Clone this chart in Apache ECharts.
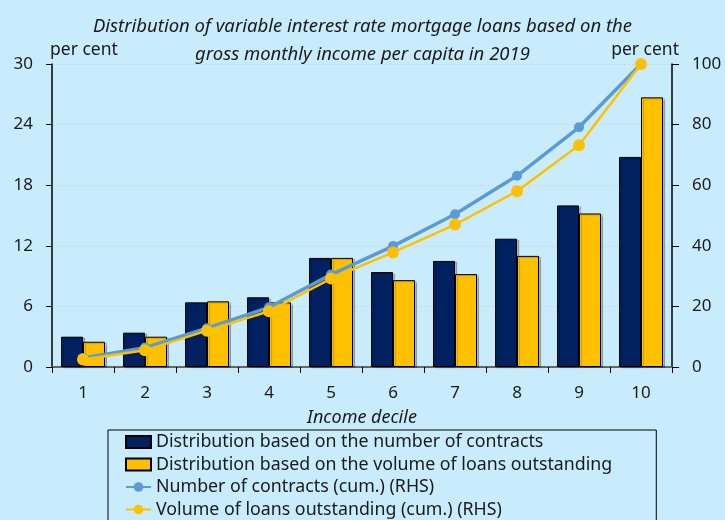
<!DOCTYPE html>
<html>
<head>
<meta charset="utf-8">
<script src="https://cdn.jsdelivr.net/npm/echarts@6/dist/echarts.min.js"></script>
<style>
  html, body { margin: 0; padding: 0; background: #C9ECFC; }
  #chart { width: 725px; height: 520px; }
</style>
</head>
<body>
<div id="chart"></div>
<script>
// Income deciles
const deciles = ['1', '2', '3', '4', '5', '6', '7', '8', '9', '10'];
// Share per decile, per cent (left axis)
const byContracts = [3.0, 3.4, 6.4, 6.9, 10.8, 9.4, 10.5, 12.7, 16.0, 20.8];
const byVolume = [2.5, 3.0, 6.5, 6.4, 10.8, 8.6, 9.2, 11.0, 15.2, 26.7];
// Cumulative shares, per cent (right axis)
const contractsCum = [3.0, 6.4, 12.8, 19.7, 30.5, 39.9, 50.4, 63.1, 79.1, 100];
const volumeCum = [2.5, 5.5, 12.0, 18.4, 29.2, 37.8, 47.0, 58.0, 73.2, 100];

const leftTicks = [0, 6, 12, 18, 24, 30];
const rightTicks = [0, 20, 40, 60, 80, 100];

const FONT = 'Noto Sans';
const TXT = '#1a1a1a';

const chart = echarts.init(document.getElementById('chart'), null, { renderer: 'canvas' });

chart.setOption({
  backgroundColor: '#C9ECFC',
  textStyle: { fontFamily: FONT, color: TXT },
  title: {
    text: 'Distribution of variable interest rate mortgage loans based on the\ngross monthly income per capita in 2019',
    left: 'center',
    top: 8,
    textStyle: { fontFamily: FONT, fontStyle: 'italic', fontWeight: 'normal', fontSize: 18.5, lineHeight: 28, color: TXT }
  },
  grid: { left: 52, right: 53, top: 64, bottom: 153, containLabel: false },
  legend: {
    orient: 'vertical',
    left: 108,
    top: 430,
    height: 200,
    padding: [3, 44, 30, 17],
    itemGap: 4.5,
    itemWidth: 25,
    itemHeight: 12,
    borderColor: '#000',
    borderWidth: 1,
    textStyle: { fontFamily: FONT, fontSize: 17.8, lineHeight: 18, color: TXT },
    data: [
      { name: 'Distribution based on the number of contracts', icon: 'rect' },
      { name: 'Distribution based on the volume of loans outstanding', icon: 'rect' },
      { name: 'Number of contracts (cum.) (RHS)' },
      { name: 'Volume of loans outstanding (cum.) (RHS)' }
    ]
  },
  xAxis: [{
    type: 'category',
    data: deciles,
    name: 'Income decile',
    nameLocation: 'middle',
    nameGap: 42,
    nameTextStyle: { fontFamily: FONT, fontStyle: 'italic', fontSize: 18, color: TXT },
    axisLine: { lineStyle: { color: '#000', width: 1.5 } },
    axisTick: { show: true, length: 6, lineStyle: { color: '#000' } },
    axisLabel: { fontFamily: FONT, fontSize: 17, color: TXT, margin: 18 }
  }, {
    type: 'category',
    data: deciles,
    position: 'top',
    axisLine: { show: true, lineStyle: { color: '#666', width: 2 } },
    axisTick: { show: false },
    axisLabel: { show: false }
  }],
  yAxis: [{
    type: 'value',
    min: 0, max: 30, interval: 6,
    name: 'per cent',
    nameLocation: 'end',
    nameGap: 5,
    nameTextStyle: { fontFamily: FONT, fontSize: 17.5, color: TXT, align: 'left', padding: [0, 0, 0, -2] },
    axisLine: { show: true, lineStyle: { color: '#000', width: 1.5 } },
    axisTick: { show: true, length: 6, lineStyle: { color: '#000' } },
    axisLabel: { fontFamily: FONT, fontSize: 17, color: TXT, margin: 19,
      formatter: v => leftTicks.includes(v) ? String(v) : '' },
    splitLine: { show: true, lineStyle: { color: '#d4d4d4', type: [2, 2], width: 1 } }
  }, {
    type: 'value',
    min: 0, max: 100, interval: 20,
    position: 'right',
    name: 'per cent',
    nameLocation: 'end',
    nameGap: 5,
    nameTextStyle: { fontFamily: FONT, fontSize: 17.5, color: TXT, align: 'right', padding: [0, -7, 0, 0] },
    axisLine: { show: true, lineStyle: { color: '#000', width: 1.5 } },
    axisTick: { show: true, length: 7, lineStyle: { color: '#000' } },
    axisLabel: { fontFamily: FONT, fontSize: 17, color: TXT, margin: 20,
      formatter: v => rightTicks.includes(v) ? String(v) : '' },
    splitLine: { show: false }
  }],
  series: [{
    name: 'Distribution based on the number of contracts',
    type: 'bar',
    data: byContracts,
    barWidth: '35.5%',
    barGap: '0%',
    itemStyle: { color: '#002060', borderColor: '#000', borderWidth: 1,
      shadowColor: 'rgba(0,0,0,0.2)', shadowOffsetX: 2, shadowOffsetY: 1, shadowBlur: 1 },
    z: 2
  }, {
    name: 'Distribution based on the volume of loans outstanding',
    type: 'bar',
    data: byVolume,
    barWidth: '35.5%',
    barGap: '0%',
    itemStyle: { color: '#FFC000', borderColor: '#000', borderWidth: 1,
      shadowColor: 'rgba(0,0,0,0.2)', shadowOffsetX: 2, shadowOffsetY: 1, shadowBlur: 1 },
    z: 2
  }, {
    name: 'Number of contracts (cum.) (RHS)',
    type: 'line',
    yAxisIndex: 1,
    data: contractsCum,
    symbol: 'circle',
    symbolSize: 10,
    color: '#5B9BD5',
    lineStyle: { color: '#5B9BD5', width: 3.5 },
    itemStyle: { color: '#5B9BD5' },
    z: 4
  }, {
    name: 'Volume of loans outstanding (cum.) (RHS)',
    type: 'line',
    yAxisIndex: 1,
    data: volumeCum,
    symbol: 'circle',
    symbolSize: 12,
    color: '#FFC000',
    lineStyle: { color: '#FFC000', width: 2.5 },
    itemStyle: { color: '#FFC000' },
    z: 5
  }]
});
</script>
</body>
</html>
